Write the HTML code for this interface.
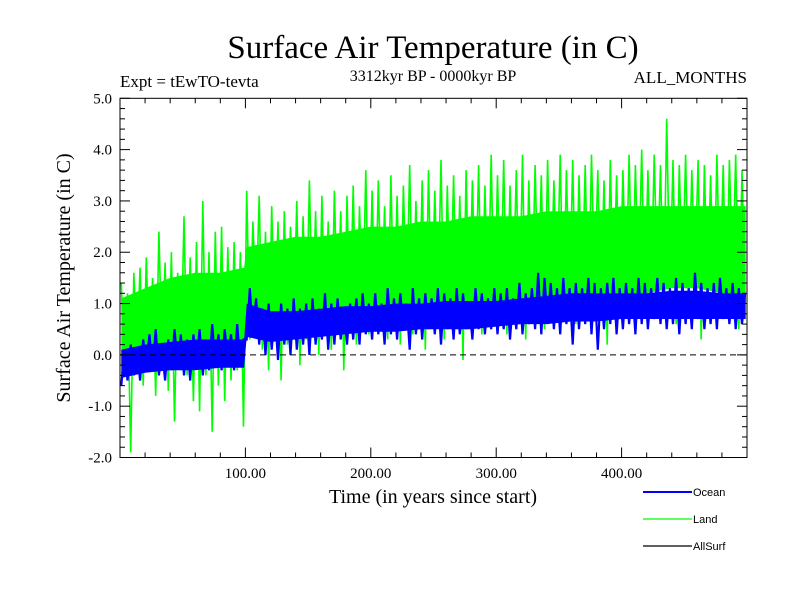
<!DOCTYPE html>
<html><head><meta charset="utf-8"><style>
body{margin:0;background:#fff}
svg text{font-family:"Liberation Serif",serif}
svg text.sans{font-family:"Liberation Sans",sans-serif}
</style></head><body>
<svg id="c" width="800" height="600" xmlns="http://www.w3.org/2000/svg">
<text x="433" y="58" font-size="33" text-anchor="middle">Surface Air Temperature (in C)</text>
<text x="120" y="87" font-size="17">Expt = tEwTO-tevta</text>
<text x="433" y="81" font-size="16" text-anchor="middle">3312kyr BP - 0000kyr BP</text>
<text x="747" y="83" font-size="17" text-anchor="end">ALL_MONTHS</text>
<text transform="translate(70,278) rotate(-90)" font-size="20" text-anchor="middle">Surface Air Temperature (in C)</text>
<text x="433" y="503" font-size="20" text-anchor="middle">Time (in years since start)</text>
<g id="plot"></g>
<g>
<line x1="643" y1="492" x2="692" y2="492" stroke="#0000ff" stroke-width="2"/>
<text class="sans" x="693" y="496" font-size="11">Ocean</text>
<line x1="643" y1="519" x2="692" y2="519" stroke="#00ff00" stroke-width="1.2"/>
<text class="sans" x="693" y="523" font-size="11">Land</text>
<line x1="643" y1="546" x2="692" y2="546" stroke="#000" stroke-width="1.2"/>
<text class="sans" x="693" y="550" font-size="11">AllSurf</text>
</g>
</svg>
<script>
const xTicks=[100,200,300,400];
const xTickLabels=["100.00","200.00","300.00","400.00"];
const yTicks=[-2,-1,0,1,2,3,4,5];
const yTickLabels=["-2.0","-1.0","0.0","1.0","2.0","3.0","4.0","5.0"];
const yearStart=1, yearStep=2.5;
const landValues=[1.4,-0.3,1.2,-1.9,1.6,0.1,1.7,-0.6,1.9,-0.2,1.5,-0.8,2.4,0.0,1.8,-0.7,2.0,-1.3,1.6,-0.3,2.7,-0.4,1.9,-0.9,2.2,-1.1,3.0,-0.4,2.0,-1.5,2.4,-0.6,2.5,-0.9,2.1,-0.5,2.2,-0.3,2.0,-1.4,
3.2,0.3,2.6,0.9,3.1,0.1,2.4,-0.3,2.9,0.4,2.6,-0.5,2.8,0.2,2.5,0.6,3.0,-0.2,2.7,0.3,3.4,0.5,2.8,0.0,3.1,0.4,2.6,0.1,3.2,0.6,2.8,-0.3,3.1,0.5,3.3,0.2,2.9,0.7,3.6,0.4,
3.2,0.5,3.4,0.8,2.9,0.3,3.5,0.6,3.1,0.2,3.3,0.9,3.7,0.4,3.0,0.7,3.4,0.1,3.6,0.6,3.2,0.9,3.8,0.3,3.3,0.8,3.5,0.5,3.1,-0.1,3.6,0.7,3.4,0.9,3.7,0.4,3.3,0.8,3.9,0.6,
3.5,0.9,3.8,0.4,3.3,1.0,3.6,0.7,3.9,0.3,3.4,0.8,3.7,1.1,3.5,0.5,3.8,0.9,3.4,1.2,3.9,0.7,3.6,1.0,3.8,0.6,3.5,1.1,3.7,0.8,3.9,1.3,3.6,0.9,3.4,0.2,3.8,1.0,3.5,0.7,
3.6,1.2,3.9,0.9,3.7,1.3,4.0,0.8,3.6,1.1,3.9,1.4,3.7,0.9,4.6,1.2,3.8,0.6,3.7,1.3,3.9,1.0,3.6,1.5,3.8,0.3,3.7,1.1,3.5,0.9,3.9,1.2,3.7,0.8,3.8,1.4,3.9,0.5,3.6,1.0];
const oceanValues=[-0.6,0.1,-0.5,0.2,-0.4,0.1,-0.5,0.3,-0.2,0.4,-0.3,0.5,-0.4,0.1,-0.5,0.3,-0.3,0.5,-0.2,0.4,-0.4,0.3,-0.5,0.4,-0.2,0.5,-0.4,0.3,-0.3,0.6,-0.2,0.4,-0.3,0.5,-0.1,0.4,-0.3,0.6,-0.2,0.3,
0.3,1.3,0.4,1.1,0.2,0.9,0.0,1.0,0.1,0.8,-0.1,1.0,0.2,0.9,0.0,1.1,0.1,0.9,0.2,1.0,0.0,1.1,0.2,0.9,0.3,1.2,0.1,1.0,0.2,1.1,0.3,0.9,0.2,1.0,0.3,1.1,0.2,1.2,0.4,1.0,
0.3,1.2,0.4,1.0,0.2,1.3,0.4,1.1,0.3,1.2,0.5,1.0,0.1,1.3,0.4,1.1,0.3,1.2,0.5,1.1,0.4,1.3,0.2,1.2,0.5,1.1,0.3,1.3,0.4,1.2,0.5,1.0,0.3,1.3,0.5,1.2,0.4,1.1,0.5,1.3,
0.4,1.2,0.5,1.3,0.3,1.1,0.5,1.4,0.4,1.2,0.6,1.3,0.5,1.6,0.4,1.5,0.6,1.4,0.5,1.3,0.4,1.5,0.6,1.3,0.2,1.4,0.5,1.3,0.6,1.5,0.4,1.4,0.1,1.3,0.5,1.4,0.6,1.5,0.4,1.3,
0.5,1.4,0.6,1.3,0.4,1.5,0.6,1.4,0.5,1.3,0.7,1.5,0.6,1.4,0.5,1.3,0.6,1.5,0.4,1.4,0.6,1.3,0.5,1.6,0.7,1.4,0.5,1.3,0.6,1.4,0.5,1.5,0.7,1.3,0.6,1.4,0.5,1.3,0.6,1.2];
// dense core ranges of each noisy series
const bandYears=[1,20,40,60,80,99,101,120,140,160,180,200,220,240,260,280,300,320,340,360,380,400,420,440,460,480,499];
const landBandLow=[-0.2,0.0,0.0,0.1,0.1,0.1,0.5,0.6,0.6,0.7,0.7,0.8,0.8,0.9,0.9,0.9,1.0,1.0,1.1,1.1,1.2,1.2,1.2,1.3,1.3,1.2,1.2];
const landBandHigh=[1.1,1.3,1.5,1.6,1.6,1.7,2.1,2.2,2.3,2.3,2.4,2.5,2.5,2.6,2.6,2.7,2.7,2.7,2.8,2.8,2.8,2.9,2.9,2.9,2.9,2.9,2.9];
const oceanBandLow=[-0.45,-0.35,-0.3,-0.3,-0.25,-0.25,0.35,0.25,0.3,0.35,0.4,0.45,0.45,0.5,0.5,0.5,0.55,0.6,0.6,0.65,0.65,0.7,0.7,0.7,0.7,0.7,0.7];
const oceanBandHigh=[0.1,0.2,0.25,0.3,0.3,0.3,1.0,0.85,0.85,0.9,0.95,0.95,1.0,1.0,1.05,1.05,1.05,1.1,1.15,1.2,1.2,1.2,1.2,1.25,1.25,1.2,1.2];

const L=120,R=747,T=98.3,B=457.5,xMin=0,xMax=500,yMin=-2,yMax=5;
const xs=v=>L+(v-xMin)/(xMax-xMin)*(R-L);
const ys=v=>B-(v-yMin)/(yMax-yMin)*(B-T);
const NS="http://www.w3.org/2000/svg";
const g=document.getElementById('plot');
function mk(tag,attrs,parent){const e=document.createElementNS(NS,tag);for(const k in attrs)e.setAttribute(k,attrs[k]);(parent||g).appendChild(e);return e;}
const clip=mk('clipPath',{id:'cp'});mk('rect',{x:L,y:T,width:R-L,height:B-T},clip);
function band(lo,hi,color,name){
  let d=bandYears.map((y,i)=>(i?'L':'M')+xs(y).toFixed(1)+','+ys(hi[i]).toFixed(1)).join('');
  for(let i=bandYears.length-1;i>=0;i--)d+='L'+xs(bandYears[i]).toFixed(1)+','+ys(lo[i]).toFixed(1);
  const p=mk('path',{d:d+'Z',fill:color,stroke:'none','clip-path':'url(#cp)'});
  
  
}
function series(vals,color,w,name){
  const d=vals.map((v,i)=>(i?'L':'M')+xs(yearStart+i*yearStep).toFixed(1)+','+ys(v).toFixed(1)).join('');
  const p=mk('path',{d:d,fill:'none',stroke:color,'stroke-width':w,'clip-path':'url(#cp)'});
  
  
}
band(landBandLow,landBandHigh,'#00ff00','land-core-band');
series(landValues,'#00ff00',1.6,'land-series');
band(oceanBandLow,oceanBandHigh,'#0000ff','ocean-core-band');
series(oceanValues,'#0000ff',2.2,'ocean-series');
const z=mk('line',{x1:L,x2:R,y1:ys(0),y2:ys(0),stroke:'#000','stroke-dasharray':'6,4','stroke-width':1});


const frame=mk('rect',{x:L,y:T,width:R-L,height:B-T,fill:'none',stroke:'#000','stroke-width':1});


for(let v=yMin;v<=yMax+1e-9;v+=0.2){
  const major=Math.abs(v-Math.round(v))<1e-6, len=major?10:5;
  mk('line',{x1:L,x2:L+len,y1:ys(v),y2:ys(v),stroke:'#000'});
  mk('line',{x1:R,x2:R-len,y1:ys(v),y2:ys(v),stroke:'#000'});
}
for(let v=20;v<xMax;v+=20){
  const major=v%100===0, len=major?10:5;
  mk('line',{x1:xs(v),x2:xs(v),y1:B,y2:B-len,stroke:'#000'});
  mk('line',{x1:xs(v),x2:xs(v),y1:T,y2:T+len,stroke:'#000'});
}
yTicks.forEach((v,i)=>{const t=mk('text',{x:112,y:ys(v)+5,'font-size':15,'text-anchor':'end'});t.textContent=yTickLabels[i];

});
xTicks.forEach((v,i)=>{const t=mk('text',{x:xs(v),y:478,'font-size':15,'text-anchor':'middle'});t.textContent=xTickLabels[i];

});
</script>
</body></html>
